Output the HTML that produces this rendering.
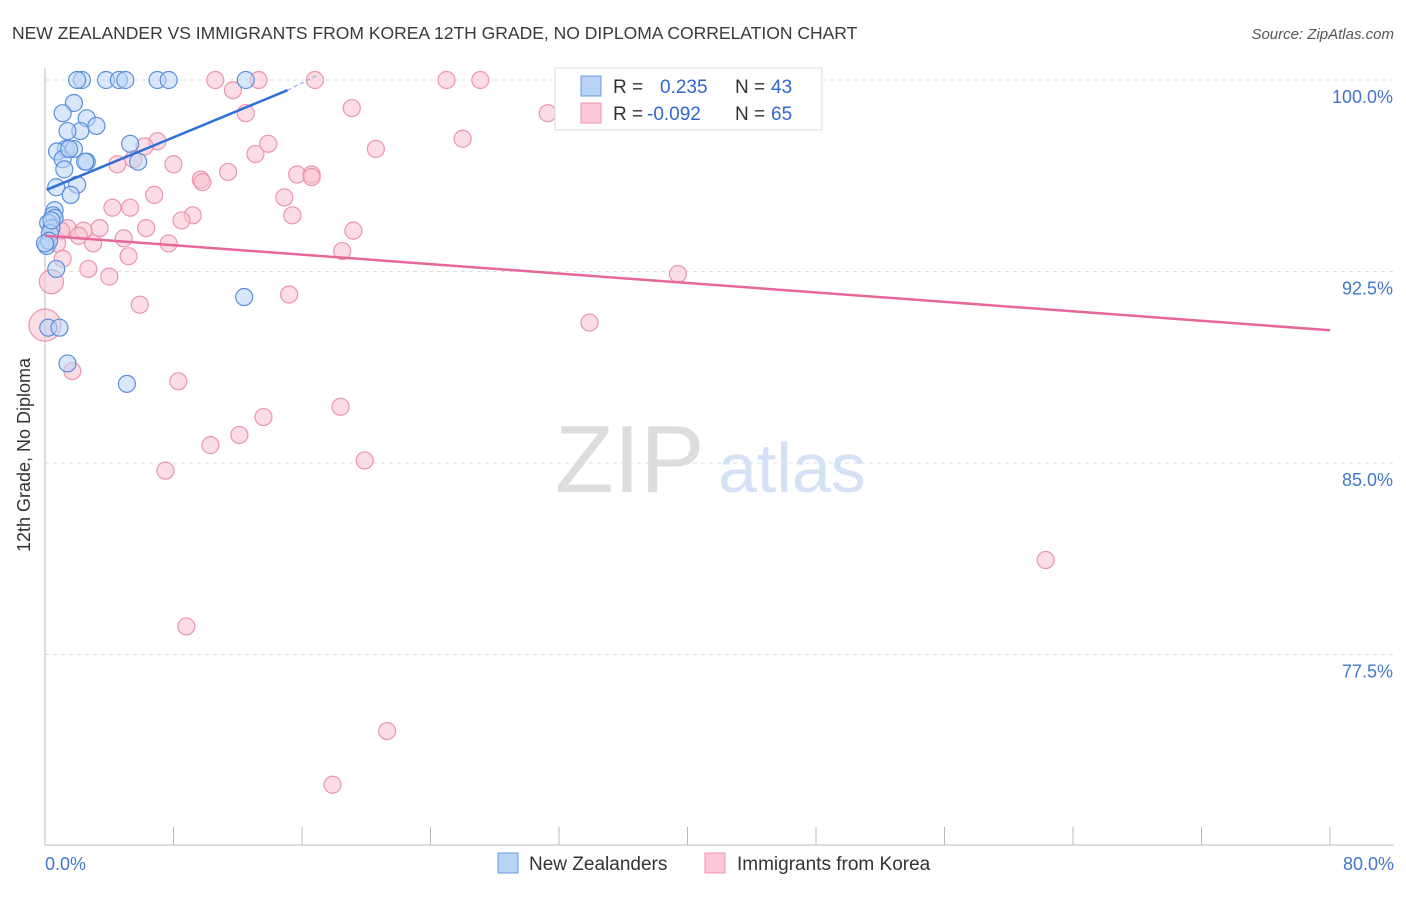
<!DOCTYPE html>
<html><head><meta charset="utf-8"><style>
body{margin:0;background:#fff;font-family:"Liberation Sans",sans-serif;}
svg text{font-family:"Liberation Sans",sans-serif;}
</style></head><body>
<svg width="1406" height="892">
<text x="12" y="39" font-size="17.5" fill="#3a3a3a">NEW ZEALANDER VS IMMIGRANTS FROM KOREA 12TH GRADE, NO DIPLOMA CORRELATION CHART</text>
<text x="1394" y="39" font-size="15" fill="#555" text-anchor="end" font-style="italic">Source: ZipAtlas.com</text>
<g id="grid"></g>
<line x1="45" y1="68" x2="45" y2="845" stroke="#bbb"/>
<line x1="45" y1="845" x2="1394" y2="845" stroke="#bbb"/>
<g id="xt"></g>
<text x="30" y="455" font-size="18" fill="#333" text-anchor="middle" transform="rotate(-90 30 455)">12th Grade, No Diploma</text>
<text x="45" y="870" font-size="18" fill="#4477cc">0.0%</text>
<text x="1394" y="870" font-size="18" fill="#4477cc" text-anchor="end">80.0%</text>
<text x="555" y="492" font-size="96" fill="#ddd" font-family="Liberation Serif">ZIP</text>
<text x="718" y="492" font-size="70" fill="#d5e2f5">atlas</text>
<g id="pts"></g>
<g id="lines"></g>
<g>
<rect x="555" y="68" width="267" height="62" fill="#fff" stroke="#ddd"/>
<rect x="581" y="76" width="20" height="20" fill="#b8d3f5" stroke="#6a9be0"/>
<rect x="581" y="103" width="20" height="20" fill="#fcc7d6" stroke="#eb95ae"/>
<text x="613" y="93" font-size="19" fill="#333">R = </text><text x="660" y="93" font-size="19" fill="#3366cc">0.235</text>
<text x="735" y="93" font-size="19" fill="#333">N = </text><text x="771" y="93" font-size="19" fill="#3366cc">43</text>
<text x="613" y="120" font-size="19" fill="#333">R = </text><text x="647" y="120" font-size="19" fill="#3366cc">-0.092</text>
<text x="735" y="120" font-size="19" fill="#333">N = </text><text x="771" y="120" font-size="19" fill="#3366cc">65</text>
</g>
<g>
<rect x="498" y="853" width="20" height="20" fill="#b8d3f5" stroke="#6a9be0"/>
<text x="529" y="870" font-size="19" fill="#333">New Zealanders</text>
<rect x="705" y="853" width="20" height="20" fill="#fcc7d6" stroke="#eb95ae"/>
<text x="737" y="870" font-size="19" fill="#333">Immigrants from Korea</text>
</g>
</svg>
<script>
const yTicks=[100,92.5,85,77.5];
const blueX=[2.3,2.0,3.8,4.6,5.0,7.0,7.7,12.5,1.8,1.1,2.6,2.2,3.2,1.4,5.3,1.3,0.75,1.1,2.6,5.8,2.0,0.7,1.6,0.6,0.5,0.6,0.2,0.4,0.3,0.1,0.7,12.4,0.2,0.9,1.4,5.1,0.25,0.4,1.8,0.0,1.5,2.5,1.2];
const blueY=[100,100,100,100,100,100,100,100,99.1,98.7,98.5,98.0,98.2,98.0,97.5,97.3,97.2,96.9,96.8,96.8,95.9,95.8,95.5,94.9,94.7,94.6,94.4,94.2,94.0,93.5,92.6,91.5,90.3,90.3,88.9,88.1,93.7,94.5,97.3,93.6,97.3,96.8,96.5];
const pinkX=[10.6,13.3,16.8,25.0,27.1,11.7,19.1,12.5,31.3,26.0,13.9,20.6,7.0,6.2,13.1,4.5,5.5,8.0,11.4,9.7,9.8,15.7,16.6,16.6,6.8,14.9,5.3,4.2,15.4,9.2,8.5,6.3,3.4,1.4,2.4,1.0,4.9,19.2,2.1,7.7,3.0,0.75,18.5,5.2,1.1,2.7,4.0,39.4,0.4,5.9,15.2,33.9,0.0,1.7,8.3,18.4,13.6,12.1,10.3,19.9,7.5,62.3,8.8,21.3,17.9];
const pinkY=[100,100,100,100,100,99.6,98.9,98.7,98.7,97.7,97.5,97.3,97.6,97.4,97.1,96.7,96.9,96.7,96.4,96.1,96.0,96.3,96.3,96.2,95.5,95.4,95.0,95.0,94.7,94.7,94.5,94.2,94.2,94.2,94.1,94.1,93.8,94.1,93.9,93.6,93.6,93.6,93.3,93.1,93.0,92.6,92.3,92.4,92.1,91.2,91.6,90.5,90.4,88.6,88.2,87.2,86.8,86.1,85.7,85.1,84.7,81.2,78.6,74.5,72.4];
const pinkBig=[48,52];
const blueTrend=[0.1,95.7,15.1,99.6];
const blueTrendExt=[15.1,99.6,17.0,100.2];
const pinkTrend=[0,93.9,80,90.2];
const X=v=>45+v/80*1285, Y=v=>80+(100-v)/7.5*191.5;
const NS='http://www.w3.org/2000/svg';
const g=document.getElementById('grid');
yTicks.forEach(t=>{const l=document.createElementNS(NS,'line');


l.setAttribute('x1',45);l.setAttribute('x2',1394);l.setAttribute('y1',Y(t));l.setAttribute('y2',Y(t));l.setAttribute('stroke','#ddd');l.setAttribute('stroke-dasharray','4 4');g.appendChild(l);
const tx=document.createElementNS(NS,'text');


tx.setAttribute('x',1393);tx.setAttribute('y',Y(t)+23);tx.setAttribute('text-anchor','end');tx.setAttribute('font-size','18');tx.setAttribute('fill','#4477cc');tx.textContent=t.toFixed(1)+'%';g.appendChild(tx);});
const xt=document.getElementById('xt');
for(let i=0;i<=10;i++){const l=document.createElementNS(NS,'line');


const x=X(i*8);l.setAttribute('x1',x);l.setAttribute('x2',x);l.setAttribute('y1',827);l.setAttribute('y2',845);l.setAttribute('stroke','#bbb');xt.appendChild(l);}
const p=document.getElementById('pts');
function dots(xs,ys,fill,stroke,name,big){xs.forEach((x,i)=>{const c=document.createElementNS(NS,'circle');


const r=big&&big.includes(i)?(i===52?16:12):8.5;
c.setAttribute('cx',X(x));c.setAttribute('cy',Y(ys[i]));c.setAttribute('r',r);c.setAttribute('fill',fill);c.setAttribute('fill-opacity','0.55');c.setAttribute('stroke',stroke);c.setAttribute('stroke-width','1.2');p.appendChild(c);});}
dots(pinkX,pinkY,'#f9c0d0','#eb95ae','korea-point',pinkBig);
dots(blueX,blueY,'#b8d3f5','#5b8fdc','nz-point',null);
const L=document.getElementById('lines');
function line(t,col,name,w,dash){const l=document.createElementNS(NS,'line');


l.setAttribute('x1',X(t[0]));l.setAttribute('y1',Y(t[1]));l.setAttribute('x2',X(t[2]));l.setAttribute('y2',Y(t[3]));l.setAttribute('stroke',col);l.setAttribute('stroke-width',w);if(dash)l.setAttribute('stroke-dasharray',dash);L.appendChild(l);}
line(blueTrend,'#2f6fd6','nz-trend-line',2.5);
line(blueTrendExt,'#8fb0e8','nz-trend-extension',1.2,'4 3');
line(pinkTrend,'#e8679a','korea-trend-line',2.5);
</script>
</body></html>
